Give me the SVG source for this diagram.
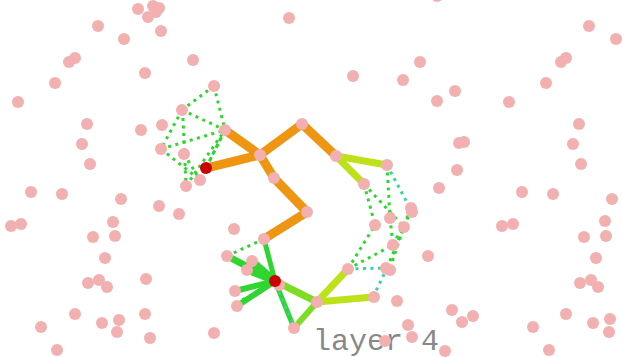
<svg xmlns="http://www.w3.org/2000/svg" width="622" height="357" viewBox="0 0 622 357">
<style>
.bg{fill:#ffffff}
.p{fill:#f2b0b0}
.r{fill:#cc0000}
.e{fill:none;stroke-linecap:butt}
.or{stroke:#ee9512;stroke-width:9}
.yg{stroke:#bde21a;stroke-width:7}
.lg{stroke:#7edd22;stroke-width:7}
.g{stroke:#2fd62f;stroke-width:6}
.d{stroke:#2fd62f;stroke-width:3;stroke-dasharray:3 4.5}
.dt{stroke:#33d6a0;stroke-width:3;stroke-dasharray:3 4.5}
.lbl{font-family:"Liberation Mono","Courier New",monospace;font-size:30px;fill:#888888}
</style>
<rect class="bg" x="0" y="0" width="622" height="357"/>
<text class="lbl" x="313" y="350">layer 4</text>
<g id="connectors">
<line class="e or" x1="206" y1="168" x2="260" y2="155"/>
<line class="e or" x1="225" y1="130" x2="260" y2="155"/>
<line class="e or" x1="260" y1="155" x2="302" y2="124"/>
<line class="e or" x1="302" y1="124" x2="336" y2="156"/>
<line class="e or" x1="260" y1="155" x2="274" y2="178"/>
<line class="e or" x1="274" y1="178" x2="307" y2="212"/>
<line class="e or" x1="307" y1="212" x2="264" y2="239"/>
<line class="e yg" x1="336" y1="156" x2="387" y2="165"/>
<line class="e yg" x1="336" y1="156" x2="364" y2="184"/>
<line class="e yg" x1="317" y1="302" x2="348" y2="269"/>
<line class="e yg" x1="317" y1="302" x2="373" y2="297"/>
<line class="e lg" x1="275" y1="281" x2="317" y2="302"/>
<line class="e lg" x1="317" y1="302" x2="294" y2="328" style="stroke-width:6"/>
<line class="e g" x1="275" y1="281" x2="264" y2="239" style="stroke-width:5"/>
<line class="e g" x1="275" y1="281" x2="227" y2="256" style="stroke-width:7"/>
<line class="e g" x1="275" y1="281" x2="252" y2="261" style="stroke-width:7"/>
<line class="e g" x1="275" y1="281" x2="247" y2="270" style="stroke-width:7"/>
<line class="e g" x1="275" y1="281" x2="235" y2="291"/>
<line class="e g" x1="275" y1="281" x2="237" y2="306"/>
<line class="e g" x1="275" y1="281" x2="294" y2="328" style="stroke-width:5"/>
<line class="e dt" x1="279" y1="292" x2="292" y2="322" style="stroke-width:2"/>
<line class="e d" x1="227" y1="256" x2="264" y2="239"/>
<line class="e d" x1="242" y1="300" x2="270" y2="286"/>
<line class="e d" x1="214" y1="86" x2="182" y2="110"/>
<line class="e d" x1="214" y1="86" x2="225" y2="130"/>
<line class="e d" x1="182" y1="110" x2="225" y2="130"/>
<line class="e d" x1="182" y1="110" x2="161" y2="149"/>
<line class="e d" x1="183" y1="118" x2="186" y2="186"/>
<line class="e d" x1="161" y1="149" x2="225" y2="130"/>
<line class="e d" x1="161" y1="149" x2="200" y2="180"/>
<line class="e d" x1="186" y1="186" x2="225" y2="130"/>
<line class="e d" x1="200" y1="180" x2="225" y2="130"/>
<line class="e d" x1="206" y1="168" x2="225" y2="130"/>
<line class="e d" x1="184" y1="154" x2="200" y2="180"/>
<line class="e d" x1="387" y1="165" x2="390" y2="218"/>
<line class="e dt" x1="387" y1="165" x2="411" y2="210"/>
<line class="e d" x1="364" y1="184" x2="404" y2="227"/>
<line class="e d" x1="364" y1="184" x2="375" y2="225"/>
<line class="e d" x1="348" y1="269" x2="375" y2="225"/>
<line class="e d" x1="348" y1="269" x2="393" y2="245"/>
<line class="e dt" x1="348" y1="269" x2="387" y2="268"/>
<line class="e d" x1="390" y1="218" x2="393" y2="245"/>
<line class="e d" x1="387" y1="268" x2="411" y2="210"/>
<line class="e d" x1="393" y1="245" x2="411" y2="210"/>
<line class="e d" x1="390" y1="268" x2="404" y2="227"/>
<line class="e dt" x1="373" y1="297" x2="387" y2="268"/>
</g>
<g id="nodes">
<g id="n1"><circle class="p" cx="138" cy="9" r="6"/></g>
<g id="n2"><circle class="p" cx="153" cy="6" r="6"/></g>
<g id="n3"><circle class="p" cx="159" cy="8" r="6"/></g>
<g id="n4"><circle class="p" cx="156" cy="12" r="6"/></g>
<g id="n5"><circle class="p" cx="148" cy="17" r="6"/></g>
<g id="n6"><circle class="p" cx="98" cy="26" r="6"/></g>
<g id="n7"><circle class="p" cx="124" cy="39" r="6"/></g>
<g id="n8"><circle class="p" cx="161" cy="31" r="6"/></g>
<g id="n9"><circle class="p" cx="289" cy="18" r="6"/></g>
<g id="n10"><circle class="p" cx="75" cy="58" r="6"/></g>
<g id="n11"><circle class="p" cx="69" cy="62" r="6"/></g>
<g id="n12"><circle class="p" cx="193" cy="60" r="6"/></g>
<g id="n13"><circle class="p" cx="145" cy="73" r="6"/></g>
<g id="n14"><circle class="p" cx="55" cy="83" r="6"/></g>
<g id="n15"><circle class="p" cx="18" cy="102" r="6"/></g>
<g id="n16"><circle class="p" cx="214" cy="86" r="6"/></g>
<g id="n17"><circle class="p" cx="182" cy="110" r="6"/></g>
<g id="n18"><circle class="p" cx="87" cy="124" r="6"/></g>
<g id="n19"><circle class="p" cx="141" cy="130" r="6"/></g>
<g id="n20"><circle class="p" cx="162" cy="125" r="6"/></g>
<g id="n21"><circle class="p" cx="225" cy="130" r="6"/></g>
<g id="n22"><circle class="p" cx="302" cy="124" r="6"/></g>
<g id="n23"><circle class="p" cx="82" cy="144" r="6"/></g>
<g id="n24"><circle class="p" cx="161" cy="149" r="6"/></g>
<g id="n25"><circle class="p" cx="184" cy="154" r="6"/></g>
<g id="n26"><circle class="p" cx="260" cy="155" r="6"/></g>
<g id="n27"><circle class="p" cx="90" cy="164" r="6"/></g>
<g id="n28"><circle class="p" cx="200" cy="180" r="6"/></g>
<g id="n29"><circle class="p" cx="274" cy="178" r="6"/></g>
<g id="n30"><circle class="p" cx="186" cy="186" r="6"/></g>
<g id="n31"><circle class="p" cx="31" cy="192" r="6"/></g>
<g id="n32"><circle class="p" cx="62" cy="194" r="6"/></g>
<g id="n33"><circle class="p" cx="121" cy="199" r="6"/></g>
<g id="n34"><circle class="p" cx="159" cy="206" r="6"/></g>
<g id="n35"><circle class="p" cx="179" cy="214" r="6"/></g>
<g id="n36"><circle class="p" cx="11" cy="226" r="6"/></g>
<g id="n37"><circle class="p" cx="21" cy="224" r="6"/></g>
<g id="n38"><circle class="p" cx="113" cy="222" r="6"/></g>
<g id="n39"><circle class="p" cx="307" cy="212" r="6"/></g>
<g id="n40"><circle class="p" cx="93" cy="237" r="6"/></g>
<g id="n41"><circle class="p" cx="115" cy="236" r="6"/></g>
<g id="n42"><circle class="p" cx="234" cy="229" r="6"/></g>
<g id="n43"><circle class="p" cx="264" cy="239" r="6"/></g>
<g id="n44"><circle class="p" cx="105" cy="258" r="6"/></g>
<g id="n45"><circle class="p" cx="227" cy="256" r="6"/></g>
<g id="n46"><circle class="p" cx="252" cy="261" r="6"/></g>
<g id="n47"><circle class="p" cx="247" cy="270" r="6"/></g>
<g id="n48"><circle class="p" cx="279" cy="285" r="6"/></g>
<g id="n49"><circle class="p" cx="88" cy="283" r="6"/></g>
<g id="n50"><circle class="p" cx="99" cy="280" r="6"/></g>
<g id="n51"><circle class="p" cx="107" cy="287" r="6"/></g>
<g id="n52"><circle class="p" cx="146" cy="279" r="6"/></g>
<g id="n53"><circle class="p" cx="235" cy="291" r="6"/></g>
<g id="n54"><circle class="p" cx="237" cy="306" r="6"/></g>
<g id="n55"><circle class="p" cx="317" cy="302" r="6"/></g>
<g id="n56"><circle class="p" cx="294" cy="328" r="6"/></g>
<g id="n57"><circle class="p" cx="75" cy="314" r="6"/></g>
<g id="n58"><circle class="p" cx="102" cy="323" r="6"/></g>
<g id="n59"><circle class="p" cx="119" cy="320" r="6"/></g>
<g id="n60"><circle class="p" cx="145" cy="314" r="6"/></g>
<g id="n61"><circle class="p" cx="41" cy="327" r="6"/></g>
<g id="n62"><circle class="p" cx="117" cy="332" r="6"/></g>
<g id="n63"><circle class="p" cx="150" cy="338" r="6"/></g>
<g id="n64"><circle class="p" cx="214" cy="333" r="6"/></g>
<g id="n65"><circle class="p" cx="57" cy="350" r="6"/></g>
<g id="n66"><circle class="p" cx="437" cy="-4" r="6"/></g>
<g id="n67"><circle class="p" cx="589" cy="26" r="6"/></g>
<g id="n68"><circle class="p" cx="616" cy="39" r="6"/></g>
<g id="n69"><circle class="p" cx="420" cy="62" r="6"/></g>
<g id="n70"><circle class="p" cx="353" cy="76" r="6"/></g>
<g id="n71"><circle class="p" cx="403" cy="80" r="6"/></g>
<g id="n72"><circle class="p" cx="566" cy="58" r="6"/></g>
<g id="n73"><circle class="p" cx="561" cy="62" r="6"/></g>
<g id="n74"><circle class="p" cx="546" cy="83" r="6"/></g>
<g id="n75"><circle class="p" cx="455" cy="91" r="6"/></g>
<g id="n76"><circle class="p" cx="437" cy="101" r="6"/></g>
<g id="n77"><circle class="p" cx="509" cy="102" r="6"/></g>
<g id="n78"><circle class="p" cx="579" cy="124" r="6"/></g>
<g id="n79"><circle class="p" cx="336" cy="156" r="6"/></g>
<g id="n80"><circle class="p" cx="573" cy="144" r="6"/></g>
<g id="n81"><circle class="p" cx="459" cy="143" r="6"/></g>
<g id="n82"><circle class="p" cx="464" cy="142" r="6"/></g>
<g id="n83"><circle class="p" cx="387" cy="165" r="6"/></g>
<g id="n84"><circle class="p" cx="457" cy="170" r="6"/></g>
<g id="n85"><circle class="p" cx="581" cy="164" r="6"/></g>
<g id="n86"><circle class="p" cx="364" cy="184" r="6"/></g>
<g id="n87"><circle class="p" cx="439" cy="188" r="6"/></g>
<g id="n88"><circle class="p" cx="522" cy="192" r="6"/></g>
<g id="n89"><circle class="p" cx="553" cy="194" r="6"/></g>
<g id="n90"><circle class="p" cx="612" cy="199" r="6"/></g>
<g id="n91"><circle class="p" cx="411" cy="208" r="6"/></g>
<g id="n92"><circle class="p" cx="412" cy="212" r="6"/></g>
<g id="n93"><circle class="p" cx="390" cy="218" r="6"/></g>
<g id="n94"><circle class="p" cx="375" cy="225" r="6"/></g>
<g id="n95"><circle class="p" cx="404" cy="227" r="6"/></g>
<g id="n96"><circle class="p" cx="605" cy="221" r="6"/></g>
<g id="n97"><circle class="p" cx="502" cy="226" r="6"/></g>
<g id="n98"><circle class="p" cx="513" cy="224" r="6"/></g>
<g id="n99"><circle class="p" cx="584" cy="237" r="6"/></g>
<g id="n100"><circle class="p" cx="606" cy="236" r="6"/></g>
<g id="n101"><circle class="p" cx="393" cy="245" r="6"/></g>
<g id="n102"><circle class="p" cx="428" cy="256" r="6"/></g>
<g id="n103"><circle class="p" cx="596" cy="258" r="6"/></g>
<g id="n104"><circle class="p" cx="348" cy="269" r="6"/></g>
<g id="n105"><circle class="p" cx="386" cy="268" r="6"/></g>
<g id="n106"><circle class="p" cx="390" cy="270" r="6"/></g>
<g id="n107"><circle class="p" cx="591" cy="280" r="6"/></g>
<g id="n108"><circle class="p" cx="580" cy="283" r="6"/></g>
<g id="n109"><circle class="p" cx="598" cy="287" r="6"/></g>
<g id="n110"><circle class="p" cx="374" cy="297" r="6"/></g>
<g id="n111"><circle class="p" cx="397" cy="301" r="6"/></g>
<g id="n112"><circle class="p" cx="452" cy="310" r="6"/></g>
<g id="n113"><circle class="p" cx="473" cy="316" r="6"/></g>
<g id="n114"><circle class="p" cx="462" cy="322" r="6"/></g>
<g id="n115"><circle class="p" cx="566" cy="314" r="6"/></g>
<g id="n116"><circle class="p" cx="408" cy="325" r="6"/></g>
<g id="n117"><circle class="p" cx="533" cy="327" r="6"/></g>
<g id="n118"><circle class="p" cx="593" cy="323" r="6"/></g>
<g id="n119"><circle class="p" cx="610" cy="319" r="6"/></g>
<g id="n120"><circle class="p" cx="609" cy="332" r="6"/></g>
<g id="n121"><circle class="p" cx="412" cy="337" r="6"/></g>
<g id="n122"><circle class="p" cx="385" cy="341" r="6"/></g>
<g id="n123"><circle class="p" cx="445" cy="351" r="6"/></g>
<g id="n124"><circle class="p" cx="549" cy="350" r="6"/></g>
<g id="root1"><circle class="r" cx="206" cy="168" r="6"/></g>
<g id="root2"><circle class="r" cx="275" cy="281" r="6"/></g>
</g>
</svg>
